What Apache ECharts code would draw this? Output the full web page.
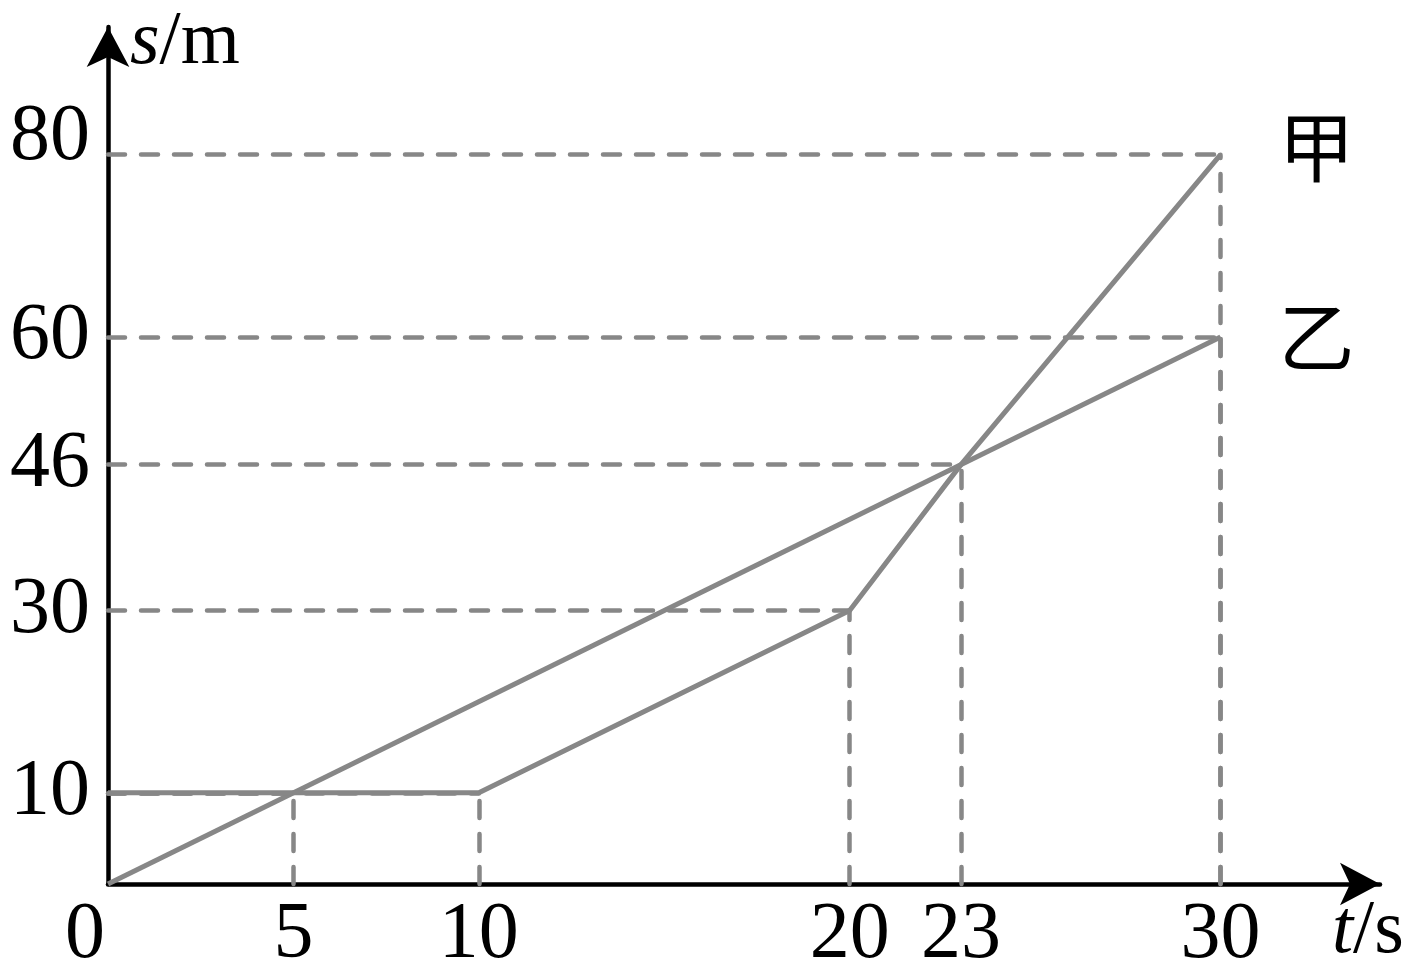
<!DOCTYPE html>
<html>
<head>
<meta charset="utf-8">
<script src="https://cdn.jsdelivr.net/npm/echarts@6/dist/echarts.min.js"></script>
<style>
html,body{margin:0;padding:0;background:#fff;}
#chart{width:1414px;height:971px;}
</style>
</head>
<body>
<div id="chart"></div>
<script>
// ---- data ----
const xTicks = [0, 5, 10, 20, 23, 30];
const yTicks = [10, 30, 46, 60, 80];
const seriesJia = [[0, 10], [10, 10], [20, 30], [23, 46], [30, 80]]; // 甲
const seriesYi = [[0, 0], [30, 60]];                                   // 乙
const guidePoints = [[5, 10], [10, 10], [20, 30], [23, 46], [30, 60], [30, 80]];
const seriesNames = ['甲', '乙'];

const GRAY = '#878787';
const SERIF = '"Liberation Serif","DejaVu Serif",serif';

const guideLines = [];
guidePoints.forEach(p => {
  guideLines.push([{ coord: [0, p[1]] }, { coord: [p[0], p[1]] }]);
  guideLines.push([{ coord: [p[0], 0] }, { coord: [p[0], p[1]] }]);
});

const chart = echarts.init(document.getElementById('chart'), null, { renderer: 'canvas' });
chart.setOption({
  animation: false,
  backgroundColor: '#fff',
  grid: { left: 108, right: 34, top: 27, bottom: 87, containLabel: false, outerBoundsMode: 'none' },
  xAxis: {
    type: 'value', min: 0, max: 34.3,
    name: '{i|t}/s',
    nameLocation: 'end',
    nameGap: -48,
    nameTextStyle: {
      fontFamily: SERIF, fontSize: 76, color: '#000', align: 'left', verticalAlign: 'top',
      padding: [10, 0, 0, 0],
      rich: { i: { fontStyle: 'italic', fontFamily: SERIF, fontSize: 76, color: '#000' } }
    },
    axisLine: { show: true, onZero: false, symbol: ['none', 'arrow'], symbolSize: [32, 40],
      lineStyle: { color: '#000', width: 4.5 } },
    axisTick: { show: false },
    splitLine: { show: false },
    axisLabel: {
      customValues: xTicks,
      margin: 12,
      fontFamily: SERIF, fontSize: 80, color: '#000',
      formatter: v => v === 0 ? '{z|0}' : String(v),
      rich: { z: { fontFamily: SERIF, fontSize: 80, color: '#000', padding: [0, 46, 0, 0] } }
    }
  },
  yAxis: {
    type: 'value', min: 0, max: 94,
    name: '{i|s}/m',
    nameLocation: 'end',
    nameGap: -54,
    nameTextStyle: {
      fontFamily: SERIF, fontSize: 76, color: '#000', align: 'left',
      padding: [0, 0, 0, 22],
      rich: { i: { fontStyle: 'italic', fontFamily: SERIF, fontSize: 76, color: '#000' } }
    },
    axisLine: { show: true, onZero: false, symbol: ['none', 'arrow'], symbolSize: [32, 40],
      lineStyle: { color: '#000', width: 4.5 } },
    axisTick: { show: false },
    splitLine: { show: false },
    axisLabel: {
      customValues: yTicks,
      margin: 18,
      fontFamily: SERIF, fontSize: 80, color: '#000',
      formatter: v => v === 80 ? '{u|80}' : String(v),
      rich: { u: { fontFamily: SERIF, fontSize: 80, color: '#000', padding: [0, 0, 34, 0] } }
    }
  },
  series: [
    {
      type: 'line', data: [], z: 1, silent: true,
      markLine: {
        silent: true, symbol: ['none', 'none'], animation: false,
        label: { show: false },
        lineStyle: { color: GRAY, width: 4.5, type: [17, 16], cap: 'round', opacity: 1 },
        data: guideLines
      }
    },
    {
      name: seriesNames[0], type: 'line', data: seriesJia, z: 3,
      showSymbol: false, symbol: 'none',
      lineStyle: { color: GRAY, width: 5 },
      endLabel: { show: true, formatter: seriesNames[0], distance: 58, offset: [0, -8],
        fontFamily: '"Noto Sans CJK SC"', fontSize: 76, color: '#000' }
    },
    {
      name: seriesNames[1], type: 'line', data: seriesYi, z: 3,
      showSymbol: false, symbol: 'none',
      lineStyle: { color: GRAY, width: 5 },
      endLabel: { show: true, formatter: seriesNames[1], distance: 58, offset: [0, 0],
        fontFamily: '"Noto Sans CJK SC"', fontSize: 76, color: '#000' }
    }
  ]
});
</script>
</body>
</html>
